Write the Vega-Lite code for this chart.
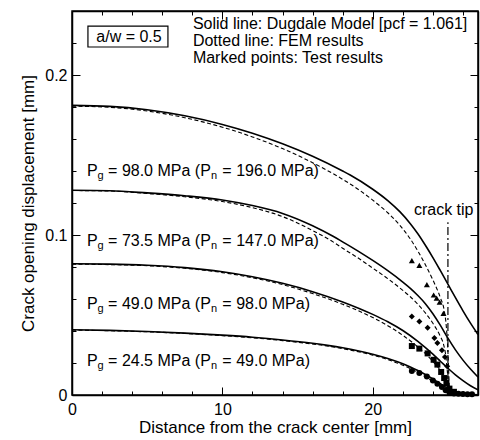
{
  "$schema": "https://vega.github.io/schema/vega-lite/v6.json",
  "width": 406,
  "height": 384,
  "autosize": {"type": "none"},
  "padding": {"left": 72, "top": 11, "right": 2, "bottom": 45},
  "background": "white",
  "config": {
    "font": "Liberation Sans",
    "view": {"stroke": "black", "strokeWidth": 1.5},
    "axis": {
      "grid": false,
      "domainColor": "black",
      "domainWidth": 1.5,
      "tickColor": "black",
      "tickWidth": 1,
      "labelColor": "black",
      "titleColor": "black",
      "labelFont": "Liberation Sans",
      "titleFont": "Liberation Sans",
      "labelFontSize": 16,
      "titleFontSize": 17,
      "titleFontWeight": "normal",
      "labelFlush": false,
      "labelOverlap": false
    }
  },
  "datasets": {
    "curves": [
      {"c": "D98", "m": "D", "x": 0, "y": 0.181}, {"c": "D98", "m": "D", "x": 2.5, "y": 0.1804}, {"c": "D98", "m": "D", "x": 5, "y": 0.1783}, {"c": "D98", "m": "D", "x": 7.5, "y": 0.1745}, {"c": "D98", "m": "D", "x": 10, "y": 0.1691}, {"c": "D98", "m": "D", "x": 12, "y": 0.1636}, {"c": "D98", "m": "D", "x": 14, "y": 0.157}, {"c": "D98", "m": "D", "x": 16, "y": 0.1492}, {"c": "D98", "m": "D", "x": 18, "y": 0.14}, {"c": "D98", "m": "D", "x": 18.5, "y": 0.1375}, {"c": "D98", "m": "D", "x": 20, "y": 0.1286}, {"c": "D98", "m": "D", "x": 21, "y": 0.1215}, {"c": "D98", "m": "D", "x": 21.8, "y": 0.1146}, {"c": "D98", "m": "D", "x": 22.5, "y": 0.1071}, {"c": "D98", "m": "D", "x": 23, "y": 0.1008}, {"c": "D98", "m": "D", "x": 23.5, "y": 0.0936}, {"c": "D98", "m": "D", "x": 24, "y": 0.0859}, {"c": "D98", "m": "D", "x": 24.5, "y": 0.0777}, {"c": "D98", "m": "D", "x": 25, "y": 0.0693}, {"c": "D98", "m": "D", "x": 25.5, "y": 0.0608}, {"c": "D98", "m": "D", "x": 26, "y": 0.0526}, {"c": "D98", "m": "D", "x": 26.5, "y": 0.0449}, {"c": "D98", "m": "D", "x": 27, "y": 0.0378},
      {"c": "F98", "m": "F", "x": 0, "y": 0.1805}, {"c": "F98", "m": "F", "x": 2.5, "y": 0.1798}, {"c": "F98", "m": "F", "x": 5, "y": 0.1775}, {"c": "F98", "m": "F", "x": 7.5, "y": 0.1733}, {"c": "F98", "m": "F", "x": 10, "y": 0.1674}, {"c": "F98", "m": "F", "x": 12, "y": 0.1613}, {"c": "F98", "m": "F", "x": 14, "y": 0.154}, {"c": "F98", "m": "F", "x": 16, "y": 0.1452}, {"c": "F98", "m": "F", "x": 18, "y": 0.1348}, {"c": "F98", "m": "F", "x": 18.5, "y": 0.1319}, {"c": "F98", "m": "F", "x": 20, "y": 0.1218}, {"c": "F98", "m": "F", "x": 21, "y": 0.1139}, {"c": "F98", "m": "F", "x": 21.8, "y": 0.1061}, {"c": "F98", "m": "F", "x": 22.5, "y": 0.0975}, {"c": "F98", "m": "F", "x": 23, "y": 0.09}, {"c": "F98", "m": "F", "x": 23.5, "y": 0.0814}, {"c": "F98", "m": "F", "x": 24, "y": 0.0719}, {"c": "F98", "m": "F", "x": 24.5, "y": 0.0607}, {"c": "F98", "m": "F", "x": 24.75, "y": 0.053}, {"c": "F98", "m": "F", "x": 24.9, "y": 0.042}, {"c": "F98", "m": "F", "x": 25, "y": 0.027}, {"c": "F98", "m": "F", "x": 25.07, "y": 0.01}, {"c": "F98", "m": "F", "x": 25.12, "y": 0},
      {"c": "D73", "m": "D", "x": 0, "y": 0.128}, {"c": "D73", "m": "D", "x": 2.5, "y": 0.1277}, {"c": "D73", "m": "D", "x": 5, "y": 0.1263}, {"c": "D73", "m": "D", "x": 7.5, "y": 0.1245}, {"c": "D73", "m": "D", "x": 10, "y": 0.1219}, {"c": "D73", "m": "D", "x": 12, "y": 0.1184}, {"c": "D73", "m": "D", "x": 14, "y": 0.1135}, {"c": "D73", "m": "D", "x": 16, "y": 0.1058}, {"c": "D73", "m": "D", "x": 17.36, "y": 0.0992}, {"c": "D73", "m": "D", "x": 18, "y": 0.0957}, {"c": "D73", "m": "D", "x": 19, "y": 0.0901}, {"c": "D73", "m": "D", "x": 20, "y": 0.0841}, {"c": "D73", "m": "D", "x": 21, "y": 0.0777}, {"c": "D73", "m": "D", "x": 22, "y": 0.0706}, {"c": "D73", "m": "D", "x": 22.5, "y": 0.0667}, {"c": "D73", "m": "D", "x": 23, "y": 0.0622}, {"c": "D73", "m": "D", "x": 23.5, "y": 0.0571}, {"c": "D73", "m": "D", "x": 24, "y": 0.0508}, {"c": "D73", "m": "D", "x": 24.5, "y": 0.0435}, {"c": "D73", "m": "D", "x": 25, "y": 0.0355}, {"c": "D73", "m": "D", "x": 25.5, "y": 0.0282}, {"c": "D73", "m": "D", "x": 26, "y": 0.0218}, {"c": "D73", "m": "D", "x": 26.5, "y": 0.0162}, {"c": "D73", "m": "D", "x": 27, "y": 0.0112},
      {"c": "F73", "m": "F", "x": 0, "y": 0.1278}, {"c": "F73", "m": "F", "x": 2.5, "y": 0.1275}, {"c": "F73", "m": "F", "x": 5, "y": 0.1259}, {"c": "F73", "m": "F", "x": 7.5, "y": 0.1239}, {"c": "F73", "m": "F", "x": 10, "y": 0.1209}, {"c": "F73", "m": "F", "x": 12, "y": 0.1171}, {"c": "F73", "m": "F", "x": 14, "y": 0.1115}, {"c": "F73", "m": "F", "x": 16, "y": 0.1028}, {"c": "F73", "m": "F", "x": 17.36, "y": 0.0957}, {"c": "F73", "m": "F", "x": 18, "y": 0.0917}, {"c": "F73", "m": "F", "x": 19, "y": 0.0858}, {"c": "F73", "m": "F", "x": 20, "y": 0.0793}, {"c": "F73", "m": "F", "x": 21, "y": 0.0727}, {"c": "F73", "m": "F", "x": 22, "y": 0.0654}, {"c": "F73", "m": "F", "x": 22.5, "y": 0.0614}, {"c": "F73", "m": "F", "x": 23, "y": 0.0567}, {"c": "F73", "m": "F", "x": 23.5, "y": 0.0513}, {"c": "F73", "m": "F", "x": 24, "y": 0.0448}, {"c": "F73", "m": "F", "x": 24.5, "y": 0.0365}, {"c": "F73", "m": "F", "x": 24.7, "y": 0.032}, {"c": "F73", "m": "F", "x": 24.85, "y": 0.025}, {"c": "F73", "m": "F", "x": 24.95, "y": 0.016}, {"c": "F73", "m": "F", "x": 25.05, "y": 0.005}, {"c": "F73", "m": "F", "x": 25.1, "y": 0},
      {"c": "D49", "m": "D", "x": 0, "y": 0.082}, {"c": "D49", "m": "D", "x": 2.5, "y": 0.0818}, {"c": "D49", "m": "D", "x": 5, "y": 0.0811}, {"c": "D49", "m": "D", "x": 7.5, "y": 0.0796}, {"c": "D49", "m": "D", "x": 10, "y": 0.077}, {"c": "D49", "m": "D", "x": 12, "y": 0.0739}, {"c": "D49", "m": "D", "x": 14, "y": 0.0698}, {"c": "D49", "m": "D", "x": 16, "y": 0.0646}, {"c": "D49", "m": "D", "x": 18, "y": 0.0582}, {"c": "D49", "m": "D", "x": 20, "y": 0.0504}, {"c": "D49", "m": "D", "x": 21, "y": 0.0458}, {"c": "D49", "m": "D", "x": 22, "y": 0.0403}, {"c": "D49", "m": "D", "x": 23, "y": 0.0335}, {"c": "D49", "m": "D", "x": 24, "y": 0.0255}, {"c": "D49", "m": "D", "x": 24.5, "y": 0.0211}, {"c": "D49", "m": "D", "x": 25, "y": 0.0167}, {"c": "D49", "m": "D", "x": 25.5, "y": 0.0126}, {"c": "D49", "m": "D", "x": 26, "y": 0.009}, {"c": "D49", "m": "D", "x": 26.5, "y": 0.0058}, {"c": "D49", "m": "D", "x": 27, "y": 0.0032},
      {"c": "F49", "m": "F", "x": 0, "y": 0.0818}, {"c": "F49", "m": "F", "x": 2.5, "y": 0.0815}, {"c": "F49", "m": "F", "x": 5, "y": 0.0808}, {"c": "F49", "m": "F", "x": 7.5, "y": 0.0792}, {"c": "F49", "m": "F", "x": 10, "y": 0.0765}, {"c": "F49", "m": "F", "x": 12, "y": 0.0733}, {"c": "F49", "m": "F", "x": 14, "y": 0.069}, {"c": "F49", "m": "F", "x": 16, "y": 0.0634}, {"c": "F49", "m": "F", "x": 18, "y": 0.0567}, {"c": "F49", "m": "F", "x": 20, "y": 0.0484}, {"c": "F49", "m": "F", "x": 21, "y": 0.0433}, {"c": "F49", "m": "F", "x": 22, "y": 0.0373}, {"c": "F49", "m": "F", "x": 23, "y": 0.03}, {"c": "F49", "m": "F", "x": 24, "y": 0.021}, {"c": "F49", "m": "F", "x": 24.5, "y": 0.0151}, {"c": "F49", "m": "F", "x": 24.8, "y": 0.0098}, {"c": "F49", "m": "F", "x": 25, "y": 0.0045}, {"c": "F49", "m": "F", "x": 25.1, "y": 0},
      {"c": "D24", "m": "D", "x": 0, "y": 0.0408}, {"c": "D24", "m": "D", "x": 2.5, "y": 0.0404}, {"c": "D24", "m": "D", "x": 5, "y": 0.0397}, {"c": "D24", "m": "D", "x": 7.5, "y": 0.0387}, {"c": "D24", "m": "D", "x": 10, "y": 0.0374}, {"c": "D24", "m": "D", "x": 12, "y": 0.0361}, {"c": "D24", "m": "D", "x": 14, "y": 0.0344}, {"c": "D24", "m": "D", "x": 16, "y": 0.0323}, {"c": "D24", "m": "D", "x": 17, "y": 0.031}, {"c": "D24", "m": "D", "x": 18, "y": 0.0295}, {"c": "D24", "m": "D", "x": 19, "y": 0.0277}, {"c": "D24", "m": "D", "x": 20, "y": 0.0255}, {"c": "D24", "m": "D", "x": 21, "y": 0.0228}, {"c": "D24", "m": "D", "x": 22, "y": 0.0195}, {"c": "D24", "m": "D", "x": 22.5, "y": 0.0175}, {"c": "D24", "m": "D", "x": 23, "y": 0.0153}, {"c": "D24", "m": "D", "x": 23.5, "y": 0.0128}, {"c": "D24", "m": "D", "x": 24, "y": 0.01}, {"c": "D24", "m": "D", "x": 24.5, "y": 0.007}, {"c": "D24", "m": "D", "x": 25, "y": 0.0042}, {"c": "D24", "m": "D", "x": 25.5, "y": 0.0022}, {"c": "D24", "m": "D", "x": 26, "y": 0.001}, {"c": "D24", "m": "D", "x": 26.5, "y": 0.0004}, {"c": "D24", "m": "D", "x": 27, "y": 0.0001},
      {"c": "F24", "m": "F", "x": 0, "y": 0.0406}, {"c": "F24", "m": "F", "x": 5, "y": 0.0395}, {"c": "F24", "m": "F", "x": 10, "y": 0.0371}, {"c": "F24", "m": "F", "x": 14, "y": 0.034}, {"c": "F24", "m": "F", "x": 18, "y": 0.029}, {"c": "F24", "m": "F", "x": 20, "y": 0.0249}, {"c": "F24", "m": "F", "x": 21, "y": 0.0221}, {"c": "F24", "m": "F", "x": 22, "y": 0.0186}, {"c": "F24", "m": "F", "x": 23, "y": 0.0141}, {"c": "F24", "m": "F", "x": 24, "y": 0.0085}, {"c": "F24", "m": "F", "x": 24.5, "y": 0.0053}, {"c": "F24", "m": "F", "x": 24.8, "y": 0.003}, {"c": "F24", "m": "F", "x": 25, "y": 0.0012}, {"c": "F24", "m": "F", "x": 25.1, "y": 0}
    ],
    "tests": [
      {"s": "98", "x": 22.6, "y": 0.084}, {"s": "98", "x": 23.1, "y": 0.081}, {"s": "98", "x": 23.6, "y": 0.069}, {"s": "98", "x": 24.05, "y": 0.0625}, {"s": "98", "x": 24.25, "y": 0.0605}, {"s": "98", "x": 24.45, "y": 0.058}, {"s": "98", "x": 24.7, "y": 0.051},
      {"s": "73.5", "x": 22.6, "y": 0.049}, {"s": "73.5", "x": 23.1, "y": 0.046}, {"s": "73.5", "x": 23.65, "y": 0.042}, {"s": "73.5", "x": 24.1, "y": 0.0356}, {"s": "73.5", "x": 24.3, "y": 0.0325}, {"s": "73.5", "x": 24.6, "y": 0.028}, {"s": "73.5", "x": 24.8, "y": 0.0238}, {"s": "73.5", "x": 24.95, "y": 0.018},
      {"s": "49", "x": 22.6, "y": 0.0306}, {"s": "49", "x": 23.1, "y": 0.029}, {"s": "49", "x": 23.65, "y": 0.026}, {"s": "49", "x": 24.05, "y": 0.022}, {"s": "49", "x": 24.3, "y": 0.019}, {"s": "49", "x": 24.55, "y": 0.0144}, {"s": "49", "x": 24.75, "y": 0.0106}, {"s": "49", "x": 24.9, "y": 0.0075}, {"s": "49", "x": 25.1, "y": 0.004}, {"s": "49", "x": 25.4, "y": 0.002},
      {"s": "24.5", "x": 22.6, "y": 0.015}, {"s": "24.5", "x": 23.1, "y": 0.0137}, {"s": "24.5", "x": 23.6, "y": 0.0115}, {"s": "24.5", "x": 24.0, "y": 0.009}, {"s": "24.5", "x": 24.3, "y": 0.007}, {"s": "24.5", "x": 24.6, "y": 0.005}, {"s": "24.5", "x": 24.85, "y": 0.003}, {"s": "24.5", "x": 25.1, "y": 0.0015}, {"s": "24.5", "x": 25.4, "y": 0.001}, {"s": "24.5", "x": 25.7, "y": 0.0008}, {"s": "24.5", "x": 26.0, "y": 0.0006}, {"s": "24.5", "x": 26.3, "y": 0.0005}, {"s": "24.5", "x": 26.6, "y": 0.0005}
    ],
    "ann": [
      {"x": 8.04, "y": 0.2319, "t": "Solid line: Dugdale Model [pcf = 1.061]", "k": "main"},
      {"x": 8.04, "y": 0.2213, "t": "Dotted line: FEM results", "k": "main"},
      {"x": 8.04, "y": 0.2106, "t": "Marked points: Test results", "k": "main"},
      {"x": 3.79, "y": 0.224, "t": "a/w = 0.5", "k": "center"},
      {"x": 24.72, "y": 0.1156, "t": "crack tip", "k": "center"},
      {"x": 1.0, "y": 0.14, "t": "P", "k": "main"}, {"x": 1.7, "y": 0.14, "t": "g", "k": "sub"}, {"x": 2.4, "y": 0.14, "t": "= 98.0 MPa (P", "k": "main"}, {"x": 9.24, "y": 0.14, "t": "n", "k": "sub"}, {"x": 10.0, "y": 0.14, "t": "= 196.0 MPa)", "k": "main"},
      {"x": 1.0, "y": 0.0963, "t": "P", "k": "main"}, {"x": 1.7, "y": 0.0963, "t": "g", "k": "sub"}, {"x": 2.4, "y": 0.0963, "t": "= 73.5 MPa (P", "k": "main"}, {"x": 9.24, "y": 0.0963, "t": "n", "k": "sub"}, {"x": 10.0, "y": 0.0963, "t": "= 147.0 MPa)", "k": "main"},
      {"x": 1.0, "y": 0.0569, "t": "P", "k": "main"}, {"x": 1.7, "y": 0.0569, "t": "g", "k": "sub"}, {"x": 2.4, "y": 0.0569, "t": "= 49.0 MPa (P", "k": "main"}, {"x": 9.24, "y": 0.0569, "t": "n", "k": "sub"}, {"x": 10.0, "y": 0.0569, "t": "= 98.0 MPa)", "k": "main"},
      {"x": 1.0, "y": 0.0213, "t": "P", "k": "main"}, {"x": 1.7, "y": 0.0213, "t": "g", "k": "sub"}, {"x": 2.4, "y": 0.0213, "t": "= 24.5 MPa (P", "k": "main"}, {"x": 9.24, "y": 0.0213, "t": "n", "k": "sub"}, {"x": 10.0, "y": 0.0213, "t": "= 49.0 MPa)", "k": "main"}
    ],
    "box": [{"x": 1.06, "x2": 6.38, "y": 0.2175, "y2": 0.2306}],
    "tip": [{"x": 25, "y": 0, "y2": 0.108}]
  },
  "layer": [
    {
      "encoding": {
        "x": {
          "field": "x", "type": "quantitative",
          "scale": {"domain": [0, 27], "nice": false, "zero": false},
          "axis": {
            "orient": "bottom",
            "title": "Distance from the crack center [mm]",
            "values": [0, 2, 4, 6, 8, 10, 12, 14, 16, 18, 20, 22, 24, 26],
            "labelExpr": "datum.value % 10 === 0 ? format(datum.value, 'd') : ''",
            "tickSize": {"condition": {"test": "datum.value % 10 === 0", "value": -8}, "value": -4},
            "labelPadding": 14,
            "titleY": 24
          }
        },
        "y": {
          "field": "y", "type": "quantitative",
          "scale": {"domain": [0, 0.24], "nice": false, "zero": false},
          "axis": {
            "orient": "left",
            "title": "Crack opening displacement [mm]",
            "values": [0, 0.02, 0.04, 0.06, 0.08, 0.1, 0.12, 0.14, 0.16, 0.18, 0.2, 0.22, 0.24],
            "labelExpr": "abs(datum.value * 10 - round(datum.value * 10)) < 1e-6 ? format(datum.value, '~g') : ''",
            "tickSize": {"condition": {"test": "abs(datum.value * 10 - round(datum.value * 10)) < 1e-6", "value": -8}, "value": -4},
            "labelPadding": 13,
            "titleX": -35,
            "titleY": 192
          }
        }
      },
      "layer": [
        {
          "data": {"name": "curves"},
          "transform": [{"filter": "datum.m === 'D'"}],
          "mark": {"type": "line", "color": "black", "strokeWidth": 1.6, "interpolate": "monotone", "clip": true},
          "encoding": {"detail": {"field": "c"}}
        },
        {
          "data": {"name": "curves"},
          "transform": [{"filter": "datum.m === 'F'"}],
          "mark": {"type": "line", "color": "black", "strokeWidth": 1.1, "strokeDash": [4, 2.5], "interpolate": "monotone", "clip": true},
          "encoding": {"detail": {"field": "c"}}
        },
        {
          "data": {"name": "tests"},
          "mark": {"type": "point", "filled": true, "color": "black", "opacity": 1, "size": 36},
          "encoding": {
            "shape": {"field": "s", "type": "nominal", "scale": {"domain": ["98", "73.5", "49", "24.5"], "range": ["triangle-up", "diamond", "square", "circle"]}, "legend": null}
          }
        },
        {
          "data": {"name": "box"},
          "mark": {"type": "rect", "fill": null, "stroke": "black", "strokeWidth": 1.2},
          "encoding": {"x2": {"field": "x2"}, "y2": {"field": "y2"}}
        },
        {
          "data": {"name": "ann"},
          "transform": [{"filter": "datum.k === 'main'"}],
          "mark": {"type": "text", "align": "left", "baseline": "middle", "fontSize": 16, "color": "black"},
          "encoding": {"text": {"field": "t"}}
        },
        {
          "data": {"name": "ann"},
          "transform": [{"filter": "datum.k === 'center'"}],
          "mark": {"type": "text", "align": "center", "baseline": "middle", "fontSize": 16, "color": "black"},
          "encoding": {"text": {"field": "t"}}
        },
        {
          "data": {"name": "ann"},
          "transform": [{"filter": "datum.k === 'sub'"}],
          "mark": {"type": "text", "align": "left", "baseline": "middle", "fontSize": 11, "dy": 5, "color": "black"},
          "encoding": {"text": {"field": "t"}}
        }
      ]
    },
    {
      "data": {"name": "tip"},
      "mark": {"type": "rule", "color": "black", "strokeWidth": 1.2, "strokeDash": [8, 3, 2, 3]},
      "encoding": {
        "x": {
          "field": "x", "type": "quantitative",
          "scale": {"domain": [0, 27], "nice": false, "zero": false},
          "axis": {
            "orient": "top", "title": null, "labels": false,
            "values": [0, 2, 4, 6, 8, 10, 12, 14, 16, 18, 20, 22, 24, 26],
            "tickSize": {"condition": {"test": "datum.value % 10 === 0", "value": -8}, "value": -4}
          }
        },
        "y": {
          "field": "y", "type": "quantitative",
          "scale": {"domain": [0, 0.24], "nice": false, "zero": false},
          "axis": {
            "orient": "right", "title": null, "labels": false,
            "values": [0, 0.02, 0.04, 0.06, 0.08, 0.1, 0.12, 0.14, 0.16, 0.18, 0.2, 0.22, 0.24],
            "tickSize": {"condition": {"test": "abs(datum.value * 10 - round(datum.value * 10)) < 1e-6", "value": -8}, "value": -4}
          }
        },
        "y2": {"field": "y2"}
      }
    }
  ],
  "resolve": {"axis": {"x": "independent", "y": "independent"}}
}
